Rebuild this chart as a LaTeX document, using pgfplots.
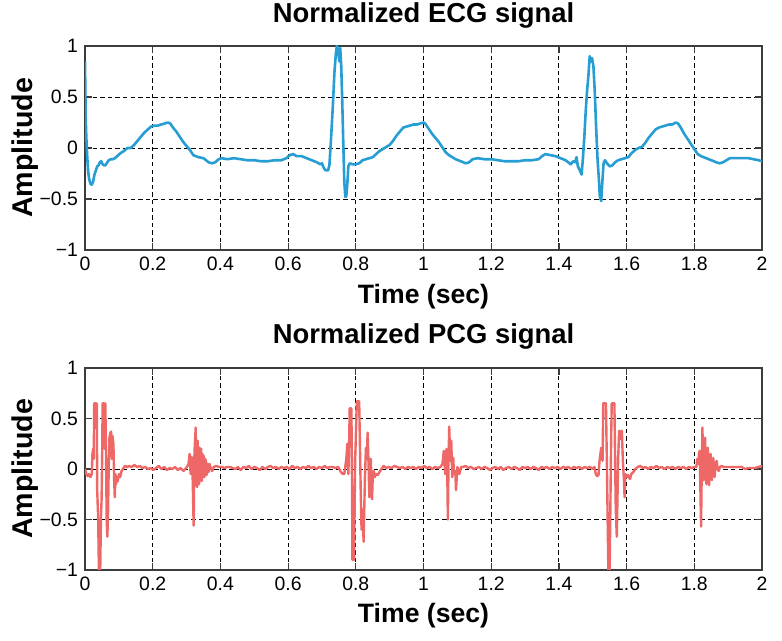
\documentclass[border=0pt]{standalone}
\usepackage{fontspec}
\setmainfont{Liberation Sans}
\usepackage{pgfplots}
\usepackage{pgfplotstable}
\pgfplotsset{compat=1.18}

\definecolor{ecgblue}{RGB}{38,158,212}
\definecolor{pcgred}{RGB}{238,104,104}
\definecolor{axgray}{RGB}{60,60,60}

% ECG trace
\pgfplotstableread{
x y
0.000 0.85
0.002 0.30
0.004 0.10
0.006 -0.05
0.009 -0.22
0.012 -0.30
0.016 -0.35
0.020 -0.36
0.024 -0.33
0.028 -0.26
0.032 -0.22
0.036 -0.18
0.040 -0.17
0.044 -0.14
0.048 -0.13
0.052 -0.16
0.056 -0.17
0.060 -0.17
0.064 -0.15
0.070 -0.12
0.076 -0.11
0.082 -0.11
0.088 -0.10
0.095 -0.08
0.105 -0.05
0.115 -0.03
0.125 0.00
0.135 0.00
0.145 0.03
0.155 0.07
0.165 0.11
0.175 0.15
0.185 0.18
0.195 0.21
0.205 0.22
0.215 0.22
0.225 0.23
0.235 0.24
0.245 0.25
0.252 0.24
0.260 0.20
0.270 0.16
0.280 0.11
0.290 0.06
0.300 0.02
0.310 -0.02
0.320 -0.07
0.335 -0.09
0.350 -0.10
0.365 -0.14
0.375 -0.15
0.385 -0.14
0.395 -0.11
0.405 -0.10
0.420 -0.11
0.440 -0.10
0.460 -0.11
0.480 -0.12
0.500 -0.12
0.520 -0.13
0.540 -0.13
0.560 -0.12
0.580 -0.12
0.595 -0.10
0.605 -0.07
0.615 -0.06
0.625 -0.08
0.640 -0.08
0.655 -0.10
0.670 -0.12
0.685 -0.14
0.695 -0.16
0.700 -0.15
0.706 -0.20
0.712 -0.22
0.718 -0.22
0.722 -0.17
0.727 0.10
0.732 0.40
0.737 0.75
0.741 0.92
0.744 1.00
0.748 0.95
0.751 0.85
0.754 0.98
0.757 0.80
0.760 0.45
0.763 0.05
0.766 -0.33
0.769 -0.48
0.772 -0.47
0.775 -0.35
0.778 -0.18
0.782 -0.15
0.790 -0.16
0.800 -0.16
0.810 -0.15
0.820 -0.12
0.830 -0.11
0.840 -0.10
0.850 -0.09
0.860 -0.06
0.870 -0.03
0.880 -0.01
0.890 0.01
0.900 0.03
0.910 0.07
0.920 0.12
0.930 0.16
0.940 0.20
0.950 0.21
0.960 0.22
0.970 0.23
0.980 0.23
0.990 0.24
1.000 0.25
1.005 0.24
1.015 0.19
1.025 0.14
1.035 0.10
1.045 0.06
1.055 0.01
1.065 -0.04
1.075 -0.07
1.085 -0.09
1.095 -0.11
1.110 -0.13
1.125 -0.15
1.135 -0.14
1.145 -0.11
1.160 -0.10
1.180 -0.11
1.200 -0.11
1.220 -0.12
1.240 -0.13
1.260 -0.13
1.280 -0.13
1.300 -0.12
1.320 -0.12
1.340 -0.11
1.350 -0.08
1.360 -0.06
1.375 -0.07
1.390 -0.08
1.405 -0.10
1.420 -0.12
1.435 -0.16
1.442 -0.13
1.448 -0.14
1.452 -0.09
1.456 -0.18
1.462 -0.22
1.467 -0.26
1.471 -0.10
1.475 0.10
1.479 0.35
1.483 0.55
1.487 0.70
1.491 0.90
1.495 0.85
1.498 0.88
1.502 0.80
1.506 0.55
1.510 0.20
1.514 -0.10
1.518 -0.30
1.521 -0.48
1.525 -0.52
1.528 -0.35
1.532 -0.15
1.536 -0.12
1.542 -0.15
1.550 -0.18
1.558 -0.17
1.566 -0.14
1.575 -0.12
1.585 -0.11
1.595 -0.10
1.605 -0.09
1.615 -0.05
1.625 -0.02
1.635 0.00
1.645 0.01
1.655 0.05
1.665 0.10
1.675 0.14
1.685 0.18
1.695 0.20
1.705 0.21
1.715 0.22
1.725 0.23
1.735 0.23
1.745 0.25
1.752 0.24
1.760 0.20
1.770 0.14
1.780 0.09
1.790 0.04
1.800 -0.01
1.810 -0.06
1.820 -0.08
1.835 -0.10
1.850 -0.12
1.865 -0.14
1.875 -0.15
1.885 -0.14
1.895 -0.12
1.905 -0.10
1.920 -0.10
1.940 -0.10
1.960 -0.10
1.975 -0.11
1.990 -0.12
2.000 -0.13
}\ecgdata

% PCG trace
\pgfplotstableread{
x y
0.000 0.00
0.004 -0.05
0.008 -0.07
0.012 -0.05
0.016 -0.08
0.020 -0.05
0.022 0.15
0.024 0.20
0.026 0.10
0.027 0.65
0.031 0.65
0.033 0.40
0.035 0.65
0.036 -0.20
0.039 -0.50
0.041 -1.00
0.045 -1.00
0.047 -0.50
0.049 -0.30
0.051 0.20
0.052 0.65
0.056 0.65
0.058 0.20
0.060 0.65
0.062 0.20
0.064 -0.50
0.066 -0.67
0.068 -0.45
0.070 0.00
0.072 0.30
0.074 0.35
0.077 0.37
0.079 0.10
0.081 0.33
0.084 0.25
0.086 -0.10
0.088 -0.28
0.090 -0.05
0.092 -0.15
0.094 -0.08
0.097 -0.12
0.100 -0.05
0.104 -0.08
0.108 -0.02
0.112 0.00
0.118 0.03
0.125 0.02
0.130 0.03
0.138 0.02
0.146 0.04
0.154 0.02
0.162 0.03
0.170 0.01
0.178 0.02
0.186 0.00
0.194 0.01
0.202 -0.01
0.210 0.01
0.218 0.03
0.226 0.00
0.234 0.02
0.242 -0.01
0.250 0.01
0.258 0.00
0.266 0.02
0.274 -0.01
0.282 0.01
0.291 -0.02
0.301 0.02
0.306 0.05
0.309 0.15
0.312 -0.05
0.315 0.12
0.318 -0.08
0.321 -0.56
0.323 0.10
0.324 0.21
0.327 0.41
0.329 -0.10
0.331 -0.18
0.333 0.28
0.335 -0.12
0.337 -0.15
0.339 0.21
0.341 -0.05
0.343 0.20
0.345 -0.12
0.347 0.15
0.349 -0.08
0.351 0.13
0.353 -0.08
0.355 0.10
0.357 0.08
0.359 -0.06
0.362 0.05
0.365 -0.03
0.368 0.05
0.372 0.00
0.376 -0.02
0.380 0.02
0.388 0.03
0.396 0.02
0.404 0.02
0.412 0.01
0.420 0.02
0.428 0.02
0.436 0.01
0.444 0.00
0.452 0.02
0.460 -0.01
0.468 0.02
0.476 0.01
0.484 0.03
0.492 0.00
0.500 0.02
0.508 0.01
0.516 -0.01
0.524 0.02
0.532 0.00
0.540 0.02
0.548 0.03
0.556 0.01
0.564 0.02
0.572 0.00
0.580 0.02
0.588 0.01
0.596 0.02
0.604 0.00
0.612 0.03
0.620 0.01
0.628 0.02
0.636 0.00
0.644 0.02
0.652 0.01
0.660 0.03
0.668 0.01
0.676 0.02
0.684 0.00
0.692 0.02
0.700 0.01
0.708 0.03
0.716 0.01
0.724 0.02
0.732 0.02
0.740 0.01
0.748 0.02
0.756 -0.03
0.762 -0.05
0.766 -0.05
0.772 0.10
0.775 0.25
0.778 -0.05
0.780 0.20
0.782 0.60
0.787 0.60
0.789 -0.20
0.790 -0.90
0.795 -0.90
0.798 0.08
0.800 0.30
0.803 0.67
0.810 0.67
0.813 0.08
0.815 -0.30
0.817 -0.60
0.820 -0.40
0.823 -0.72
0.825 -0.40
0.827 -0.08
0.830 0.21
0.832 0.10
0.835 0.36
0.838 0.00
0.840 -0.28
0.842 -0.05
0.844 0.10
0.846 -0.05
0.848 -0.30
0.850 -0.08
0.853 -0.02
0.856 -0.08
0.860 -0.05
0.865 -0.06
0.870 -0.03
0.876 0.00
0.882 0.03
0.890 0.01
0.898 0.02
0.906 0.01
0.914 0.03
0.922 0.02
0.930 0.01
0.938 0.02
0.946 0.00
0.954 0.02
0.962 0.01
0.970 0.02
0.978 0.00
0.986 0.02
0.994 0.01
1.002 0.03
1.010 0.01
1.018 0.02
1.026 0.00
1.034 0.02
1.042 0.01
1.050 0.02
1.056 0.05
1.060 0.18
1.064 -0.05
1.068 0.20
1.070 0.02
1.072 -0.50
1.074 0.10
1.076 0.42
1.079 0.08
1.082 0.28
1.085 -0.08
1.088 0.11
1.090 -0.05
1.092 -0.05
1.094 -0.02
1.096 -0.21
1.100 0.02
1.106 -0.05
1.111 0.02
1.116 0.02
1.124 0.03
1.132 0.01
1.140 0.02
1.148 0.00
1.156 0.01
1.164 0.02
1.172 0.00
1.180 0.02
1.188 0.01
1.196 -0.01
1.204 0.01
1.212 0.02
1.220 0.00
1.228 0.02
1.236 -0.01
1.244 0.01
1.252 0.02
1.260 0.00
1.268 0.02
1.276 0.01
1.284 -0.01
1.292 0.02
1.300 0.01
1.308 0.02
1.316 0.00
1.324 0.02
1.332 0.01
1.340 -0.01
1.348 0.02
1.356 0.01
1.364 0.02
1.372 0.00
1.380 0.02
1.388 0.01
1.396 0.02
1.404 0.00
1.412 0.02
1.420 0.01
1.428 0.02
1.436 0.00
1.444 0.02
1.452 0.01
1.460 0.02
1.468 0.00
1.476 0.02
1.484 0.01
1.492 0.02
1.500 0.00
1.505 0.02
1.509 -0.05
1.513 -0.07
1.517 -0.06
1.520 0.08
1.525 0.21
1.529 0.08
1.531 0.65
1.539 0.65
1.542 0.00
1.544 -0.50
1.546 -1.00
1.550 -1.00
1.552 -0.40
1.554 0.20
1.556 0.65
1.564 0.65
1.566 0.10
1.568 -0.40
1.571 -0.67
1.573 -0.30
1.575 0.10
1.578 0.38
1.582 0.30
1.586 0.38
1.589 0.08
1.592 -0.10
1.594 -0.28
1.596 -0.05
1.600 -0.08
1.604 -0.06
1.610 -0.10
1.614 -0.05
1.620 -0.03
1.626 0.00
1.633 0.02
1.640 0.03
1.648 0.01
1.656 0.02
1.664 0.00
1.672 0.02
1.680 0.01
1.688 0.03
1.696 0.01
1.704 0.02
1.712 0.00
1.720 0.02
1.728 0.01
1.736 0.02
1.744 0.00
1.752 0.02
1.760 0.01
1.768 0.02
1.776 0.00
1.784 0.02
1.792 0.01
1.800 0.02
1.806 0.02
1.809 0.10
1.812 0.05
1.814 0.16
1.816 0.18
1.818 -0.20
1.820 -0.57
1.822 0.00
1.824 0.41
1.826 0.05
1.828 -0.11
1.830 0.25
1.832 0.31
1.834 -0.05
1.836 -0.15
1.838 0.15
1.840 0.21
1.842 -0.08
1.844 -0.16
1.846 0.10
1.848 0.15
1.850 -0.05
1.852 -0.11
1.854 0.08
1.856 0.11
1.858 -0.03
1.860 -0.08
1.863 0.06
1.866 0.08
1.869 0.00
1.872 -0.02
1.876 0.02
1.880 0.03
1.888 0.02
1.896 0.02
1.904 0.02
1.912 0.02
1.920 0.02
1.930 0.02
1.940 0.02
1.950 0.00
1.960 0.01
1.970 0.01
1.980 0.01
1.990 0.02
2.000 0.03
}\pcgdata

\pgfplotsset{
  sigax/.style={
    scale only axis,
    width=338.5pt,
    xmin=0, xmax=2, ymin=-1, ymax=1,
    xtick={0,0.2,0.4,0.6,0.8,1,1.2,1.4,1.6,1.8,2},
    xticklabels={0,0.2,0.4,0.6,0.8,1,1.2,1.4,1.6,1.8,2},
    ytick={-1,-0.5,0,0.5,1},
    yticklabels={−1,−0.5,0,0.5,1},
    tick align=inside,
    tick pos=both,
    major tick length=3.5pt,
    tick style={axgray, line width=0.6pt},
    axis line style={axgray, line width=0.8pt},
    grid=major,
    major grid style={black, line width=0.45pt, dash pattern=on 2.2pt off 1.6pt},
    tick label style={font=\fontsize{9.7}{10}\selectfont},
    title style={font=\bfseries\fontsize{13.7}{14}\selectfont, anchor=base},
    xlabel={Time (sec)},
    ylabel={Amplitude},
    xlabel style={font=\bfseries\fontsize{13.3}{14}\selectfont,
      at={(axis description cs:0.5,-0.26)}, anchor=base},
    ylabel style={font=\bfseries\fontsize{14.3}{15}\selectfont,
      at={(axis description cs:-0.0886,0.5)}, anchor=center},
  }
}

\begin{document}
\begin{tikzpicture}
\path[use as bounding box] (0,0) rectangle (391pt,-320.5pt);

\begin{axis}[sigax, height=102pt,
  at={(42.5pt,-23pt)}, anchor=north west,
  title={Normalized ECG signal},
  title style={at={(axis description cs:0.5,1.054)}},
]
\addplot[ecgblue, line width=1.3pt, line join=round] table {\ecgdata};
\end{axis}

\begin{axis}[sigax, height=101pt,
  at={(42.5pt,-184pt)}, anchor=north west,
  title={Normalized PCG signal},
  title style={at={(axis description cs:0.5,1.064)}},
]
\addplot[pcgred, line width=1.2pt, line join=round] table {\pcgdata};
\end{axis}
\end{tikzpicture}
\end{document}
